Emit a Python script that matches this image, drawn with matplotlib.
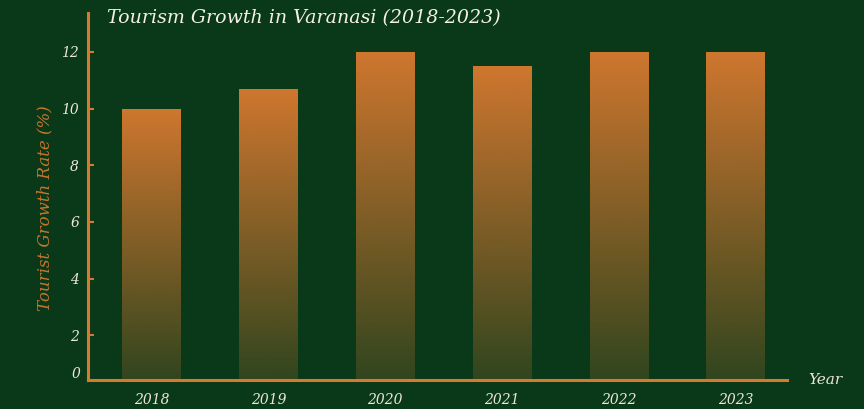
import numpy as np
import matplotlib
matplotlib.use("Agg")
import matplotlib.pyplot as plt
from matplotlib.colors import to_rgb

# data
years = ["2018", "2019", "2020", "2021", "2022", "2023"]
growth = [10.0, 10.7, 12.0, 11.5, 12.0, 12.0]
yticks = [2, 4, 6, 8, 10, 12]

BG = "#0a391a"
ORANGE = "#d0772f"
AXIS = "#d67a30"
TEXT = "#ece6d8"
SERIF = "DejaVu Serif"


def main():
    fig = plt.figure(figsize=(8.64, 4.09), dpi=100)
    fig.patch.set_facecolor(BG)

    ax = fig.add_axes([0.1019, 0.0709, 0.809, 0.8985])
    ax.set_facecolor(BG)

    YMIN, YMAX = 0.42, 13.39
    x = np.arange(len(years))
    bars = ax.bar(x, growth, width=0.5, color="none", edgecolor="none", zorder=2)

    # vertical gradient fill for every bar (opaque top -> faded bottom)
    rgb = np.array(to_rgb(ORANGE))
    n = 256
    grad = np.zeros((n, 1, 4))
    grad[:, 0, :3] = rgb
    grad[:, 0, 3] = np.linspace(1.0, 0.2, n)
    for b in bars:
        x0, w, h = b.get_x(), b.get_width(), b.get_height()
        im = ax.imshow(grad, extent=(x0, x0 + w, YMIN, h), aspect="auto",
                       origin="upper", zorder=2, interpolation="bilinear")
        im.set_clip_path(b)

    ax.set_xlim(-0.545, 5.44)
    ax.set_ylim(YMIN, YMAX)

    # spines
    for s in ["top", "right"]:
        ax.spines[s].set_visible(False)
    for s in ["left", "bottom"]:
        ax.spines[s].set_color(AXIS)
        ax.spines[s].set_linewidth(2.2)
        ax.spines[s].set_zorder(3)

    ax.set_xticks(x)
    ax.set_xticklabels(years)
    ax.set_yticks(yticks)
    ax.set_yticklabels([str(t) for t in yticks])
    ax.tick_params(axis="x", length=0, pad=9, labelsize=10, labelcolor=TEXT)
    ax.tick_params(axis="y", direction="in", length=4, width=1.5, color=AXIS,
                   pad=6.5, labelsize=10, labelcolor=TEXT)
    for lab in ax.get_xticklabels() + ax.get_yticklabels():
        lab.set_family(SERIF)
        lab.set_style("italic")

    # zero label sits just above the x axis
    ax.text(-0.0115, 0.63, "0", transform=ax.get_yaxis_transform(),
            ha="right", va="center", fontsize=10, color=TEXT,
            family=SERIF, style="italic")

    fig.text(107 / 864, 1 - 18 / 409, "Tourism Growth in Varanasi (2018-2023)",
             ha="left", va="center", fontsize=13.7, color="#f4f0e6",
             family=SERIF, style="italic")
    fig.text(45 / 864, 1 - 208 / 409, "Tourist Growth Rate (%)",
             ha="center", va="center", rotation=90, fontsize=12,
             color="#c8742c", family=SERIF, style="italic")
    fig.text(808 / 864, 1 - 380 / 409, "Year", ha="left", va="center",
             fontsize=11, color=TEXT, family=SERIF, style="italic")

    plt.savefig("out.png", dpi=100, facecolor=BG)


if __name__ == "__main__":
    main()
